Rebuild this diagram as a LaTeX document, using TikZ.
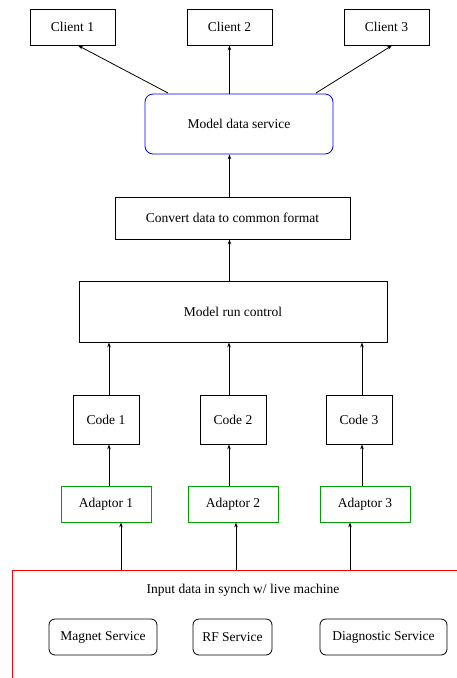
\documentclass[tikz,border=0pt]{standalone}
\usepackage{fontspec}
\setmainfont{Liberation Serif}
\usetikzlibrary{arrows.meta}
\definecolor{figgreen}{RGB}{0,160,0}
\begin{document}
\begin{tikzpicture}[x=1pt,y=-1pt,
  box/.style={draw, line width=0.8pt, inner sep=0pt, font=\fontsize{13.5}{15}\selectfont},
  arr/.style={-{Stealth[length=5pt,width=3.5pt]}, line width=0.8pt}]
\useasboundingbox (0,0) rectangle (457,678);
% clients
\node[box, minimum width=85pt, minimum height=36pt] (c1) at (72.5,27) {Client 1};
\node[box, minimum width=85pt, minimum height=36pt] (c2) at (229.5,27) {Client 2};
\node[box, minimum width=85pt, minimum height=36pt] (c3) at (386.5,27) {Client 3};
\node[box, draw=blue, rounded corners=8pt, minimum width=188pt, minimum height=60pt] (mds) at (239,124) {Model data service};
\node[box, minimum width=235pt, minimum height=42pt] (conv) at (232.5,218) {Convert data to common format};
\node[box, minimum width=308pt, minimum height=61pt] (mrc) at (233,311.5) {Model run control};
\node[box, minimum width=66pt, minimum height=49pt] (k1) at (106,419.5) {Code 1};
\node[box, minimum width=66pt, minimum height=49pt] (k2) at (233,419.5) {Code 2};
\node[box, minimum width=66pt, minimum height=49pt] (k3) at (359,419.5) {Code 3};
\node[box, draw=figgreen, minimum width=90pt, minimum height=36pt] (a1) at (106,504) {Adaptor 1};
\node[box, draw=figgreen, minimum width=90pt, minimum height=36pt] (a2) at (233,504) {Adaptor 2};
\node[box, draw=figgreen, minimum width=90pt, minimum height=36pt] (a3) at (365,504) {Adaptor 3};
% input region
\coordinate (rtl) at (12,570);
\coordinate (rtr) at (457,570);
\coordinate (rbl) at (12,678);
\draw[red, line width=0.8pt] (rtr) -- (rtl) -- (rbl);
\node[font=\fontsize{13.5}{15}\selectfont] (inp) at (243,590) {Input data in synch w/ live machine};
\node[box, rounded corners=6pt, minimum width=108pt, minimum height=36pt] (ms) at (103,637) {Magnet Service};
\node[box, rounded corners=6pt, minimum width=79pt, minimum height=36pt] (rf) at (232.5,637) {RF Service};
\node[box, rounded corners=6pt, minimum width=127pt, minimum height=36pt] (ds) at (383.5,637) {Diagnostic Service};
% arrows
\coordinate (m1) at (168,93);
\coordinate (m3) at (316,93);
\draw[arr] (m1) -- (78,45.5);
\draw[arr] (mds.north -| c2) -- (c2.south);
\draw[arr] (m3) -- (392,45.5);
\draw[arr] (conv.north -| c2) -- (mds.south -| c2);
\draw[arr] (mrc.north -| c2) -- (conv.south -| c2);
\coordinate (x1) at (109,0);
\coordinate (x2) at (229,0);
\coordinate (x3) at (362,0);
\foreach \i in {1,2,3}{
  \draw[arr] (k\i.north -| x\i) -- (mrc.south -| x\i);
  \draw[arr] (a\i.north -| x\i) -- (k\i.south -| x\i);
}
\coordinate (y1) at (121,0);
\coordinate (y2) at (236,0);
\coordinate (y3) at (350,0);
\foreach \i in {1,2,3}{
  \draw[arr] (rtl -| y\i) -- (a\i.south -| y\i);
}
\end{tikzpicture}
\end{document}
